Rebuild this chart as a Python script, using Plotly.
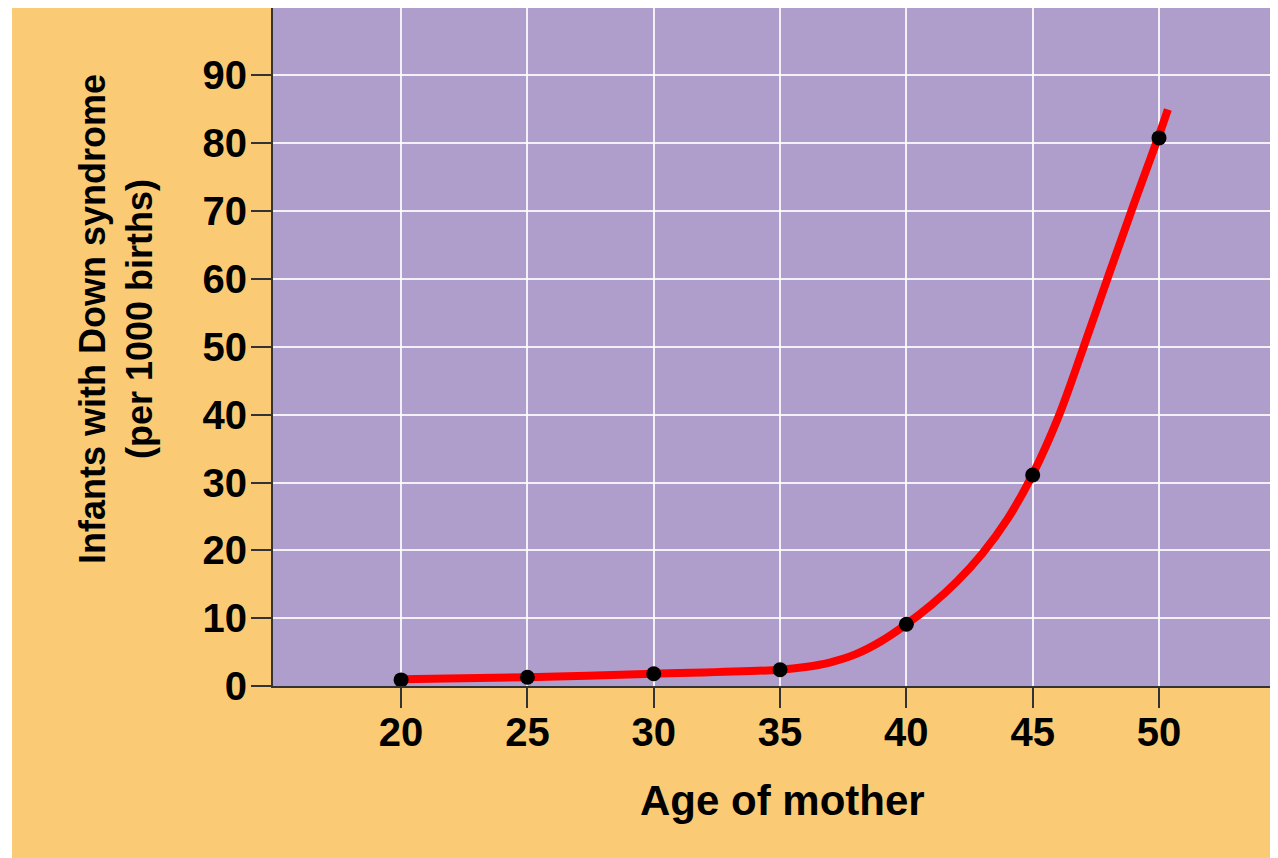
import plotly.graph_objects as go

# Data
ages = [20, 25, 30, 35, 40, 45, 50]
rate = [0.9, 1.3, 1.8, 2.4, 9.1, 31.1, 80.8]

curve_x = [20, 25, 30, 35, 36, 37, 38, 39, 40, 41, 42, 43, 44, 45, 46, 47, 48, 49, 50, 50.35]
curve_y = [1.0, 1.3, 1.8, 2.4, 2.8, 3.5, 4.7, 6.6, 9.1, 12.0, 15.4, 19.5, 24.6, 31.2,
           39.5, 49.8, 60.5, 71.0, 81.2, 85.0]

x_ticks = [20, 25, 30, 35, 40, 45, 50]
y_ticks = [0, 10, 20, 30, 40, 50, 60, 70, 80, 90]

x_title = "<b>Age of mother</b>"
y_title = "<b>Infants with Down syndrome<br>(per 1000 births)</b>"

ORANGE = "#FACB74"
PURPLE = "#AF9ECB"
FONT = "Liberation Sans, Arial, sans-serif"

W, H = 1270, 850
ML, MT, MB = 265, 0, 172
PW, PH = W - ML, H - MT - MB

fig = go.Figure()
fig.add_trace(go.Scatter(
    x=curve_x, y=curve_y, mode="lines",
    line=dict(color="#FF0000", width=8, shape="spline", smoothing=1.0),
    hoverinfo="skip", showlegend=False))
fig.add_trace(go.Scatter(
    x=ages, y=rate, mode="markers",
    marker=dict(color="black", size=15),
    showlegend=False))

fig.update_layout(
    width=W, height=H,
    margin=dict(l=ML, r=0, t=MT, b=MB, pad=0),
    paper_bgcolor=ORANGE,
    plot_bgcolor=PURPLE,
    font=dict(family=FONT, color="black"),
    showlegend=False,
    xaxis=dict(
        range=[14.93, 54.71], tickvals=x_ticks,
        ticktext=[str(v) for v in x_ticks],
        showgrid=True, gridcolor="rgba(255,255,255,0.85)", gridwidth=2,
        zeroline=False,
        showline=True, linecolor="#333333", linewidth=2,
        ticks="outside", ticklen=20, tickwidth=1.5, tickcolor="#333333",
        tickfont=dict(size=40, family=FONT, weight="bold"),
        ticklabelstandoff=-10,
        automargin=False,
    ),
    yaxis=dict(
        range=[0, 99.95], tickvals=y_ticks,
        ticktext=[str(v) for v in y_ticks],
        showgrid=True, gridcolor="rgba(255,255,255,0.85)", gridwidth=2,
        zeroline=False,
        showline=True, linecolor="#333333", linewidth=2,
        ticks="outside", ticklen=20, tickwidth=1.5, tickcolor="#333333",
        tickfont=dict(size=40, family=FONT, weight="bold"),
        ticklabelstandoff=-4,
        automargin=False,
    ),
    annotations=[
        dict(text=x_title, xref="paper", yref="paper",
             x=(782 - 273) / PW, y=(686 - 800) / PH,
             xanchor="center", yanchor="middle", showarrow=False,
             font=dict(size=42, family=FONT, color="black")),
        dict(text=y_title, xref="paper", yref="paper",
             x=(116 - 273) / PW, y=(686 - 319) / PH,
             xanchor="center", yanchor="middle", showarrow=False, textangle=-90,
             font=dict(size=36, family=FONT, color="black")),
    ],
    shapes=[
        dict(type="rect", xref="paper", yref="paper",
             x0=-ML / PW, x1=-(ML - 4) / PW, y0=-MB / PH, y1=1.0,
             fillcolor="white", line=dict(width=0), layer="above"),
    ],
)

fig.write_html("out.html")
